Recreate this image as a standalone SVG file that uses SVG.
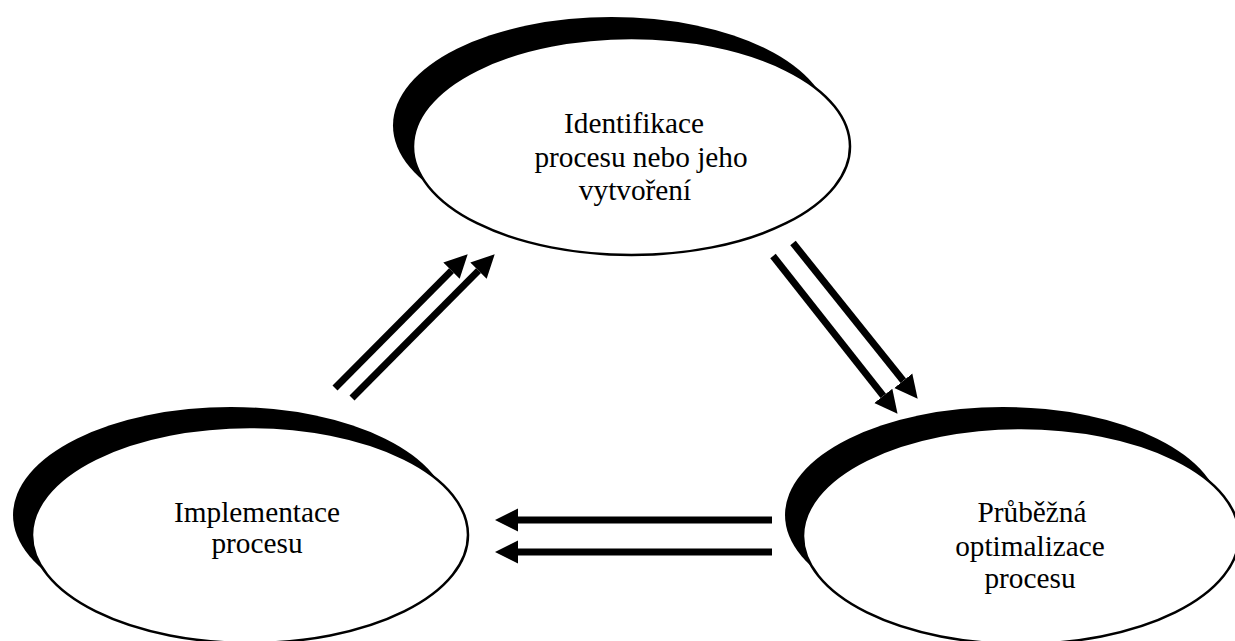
<svg xmlns="http://www.w3.org/2000/svg" width="1235" height="641" viewBox="0 0 1235 641">
<style>
.sh{fill:#000;stroke:none}
.bd{fill:#fff;stroke:#000;stroke-width:2.5}
.t{font-family:"Liberation Serif","Times New Roman",serif;font-size:29.3px;fill:#000;text-anchor:middle}
.c{stroke:#000;stroke-width:7;fill:none;stroke-linecap:butt}
</style>
<defs>
<marker id="ah" markerUnits="userSpaceOnUse" markerWidth="24" markerHeight="26" viewBox="0 0 24 26" refX="0" refY="13" orient="auto">
<path d="M0,1.5 L23,13 L0,24.5 z" fill="#000"/>
</marker>
</defs>
<rect width="1235" height="641" fill="#fff"/>
<g id="node-identifikace">
<ellipse class="sh" cx="611.5" cy="125.5" rx="218.5" ry="108.5"/>
<ellipse class="bd" cx="631.5" cy="146.5" rx="218.5" ry="108.5"/>
<text class="t" x="634" y="133">Identifikace</text>
<text class="t" x="641" y="167">procesu nebo jeho</text>
<text class="t" x="635" y="200">vytvoření</text>
</g>
<g id="node-implementace">
<ellipse class="sh" cx="231" cy="515" rx="218" ry="108"/>
<ellipse class="bd" cx="250" cy="535" rx="218" ry="108"/>
<text class="t" x="257" y="522">Implementace</text>
<text class="t" x="257" y="553">procesu</text>
</g>
<g id="node-optimalizace">
<ellipse class="sh" cx="1003" cy="515" rx="218" ry="108"/>
<ellipse class="bd" cx="1021" cy="536" rx="218" ry="108"/>
<text class="t" x="1032" y="522">Průběžná</text>
<text class="t" x="1030" y="556">optimalizace</text>
<text class="t" x="1030" y="588">procesu</text>
</g>
<g id="connectors">
<line class="c" x1="335" y1="388" x2="451.5" y2="270.6" marker-end="url(#ah)"/>
<line class="c" x1="352" y1="398" x2="478.5" y2="270.6" marker-end="url(#ah)"/>
<line class="c" x1="773" y1="256" x2="883.3" y2="395.8" marker-end="url(#ah)"/>
<line class="c" x1="793" y1="243" x2="903.3" y2="380.8" marker-end="url(#ah)"/>
<line class="c" x1="772" y1="520" x2="518" y2="520" marker-end="url(#ah)"/>
<line class="c" x1="772" y1="552" x2="518" y2="552" marker-end="url(#ah)"/>
</g>
</svg>
